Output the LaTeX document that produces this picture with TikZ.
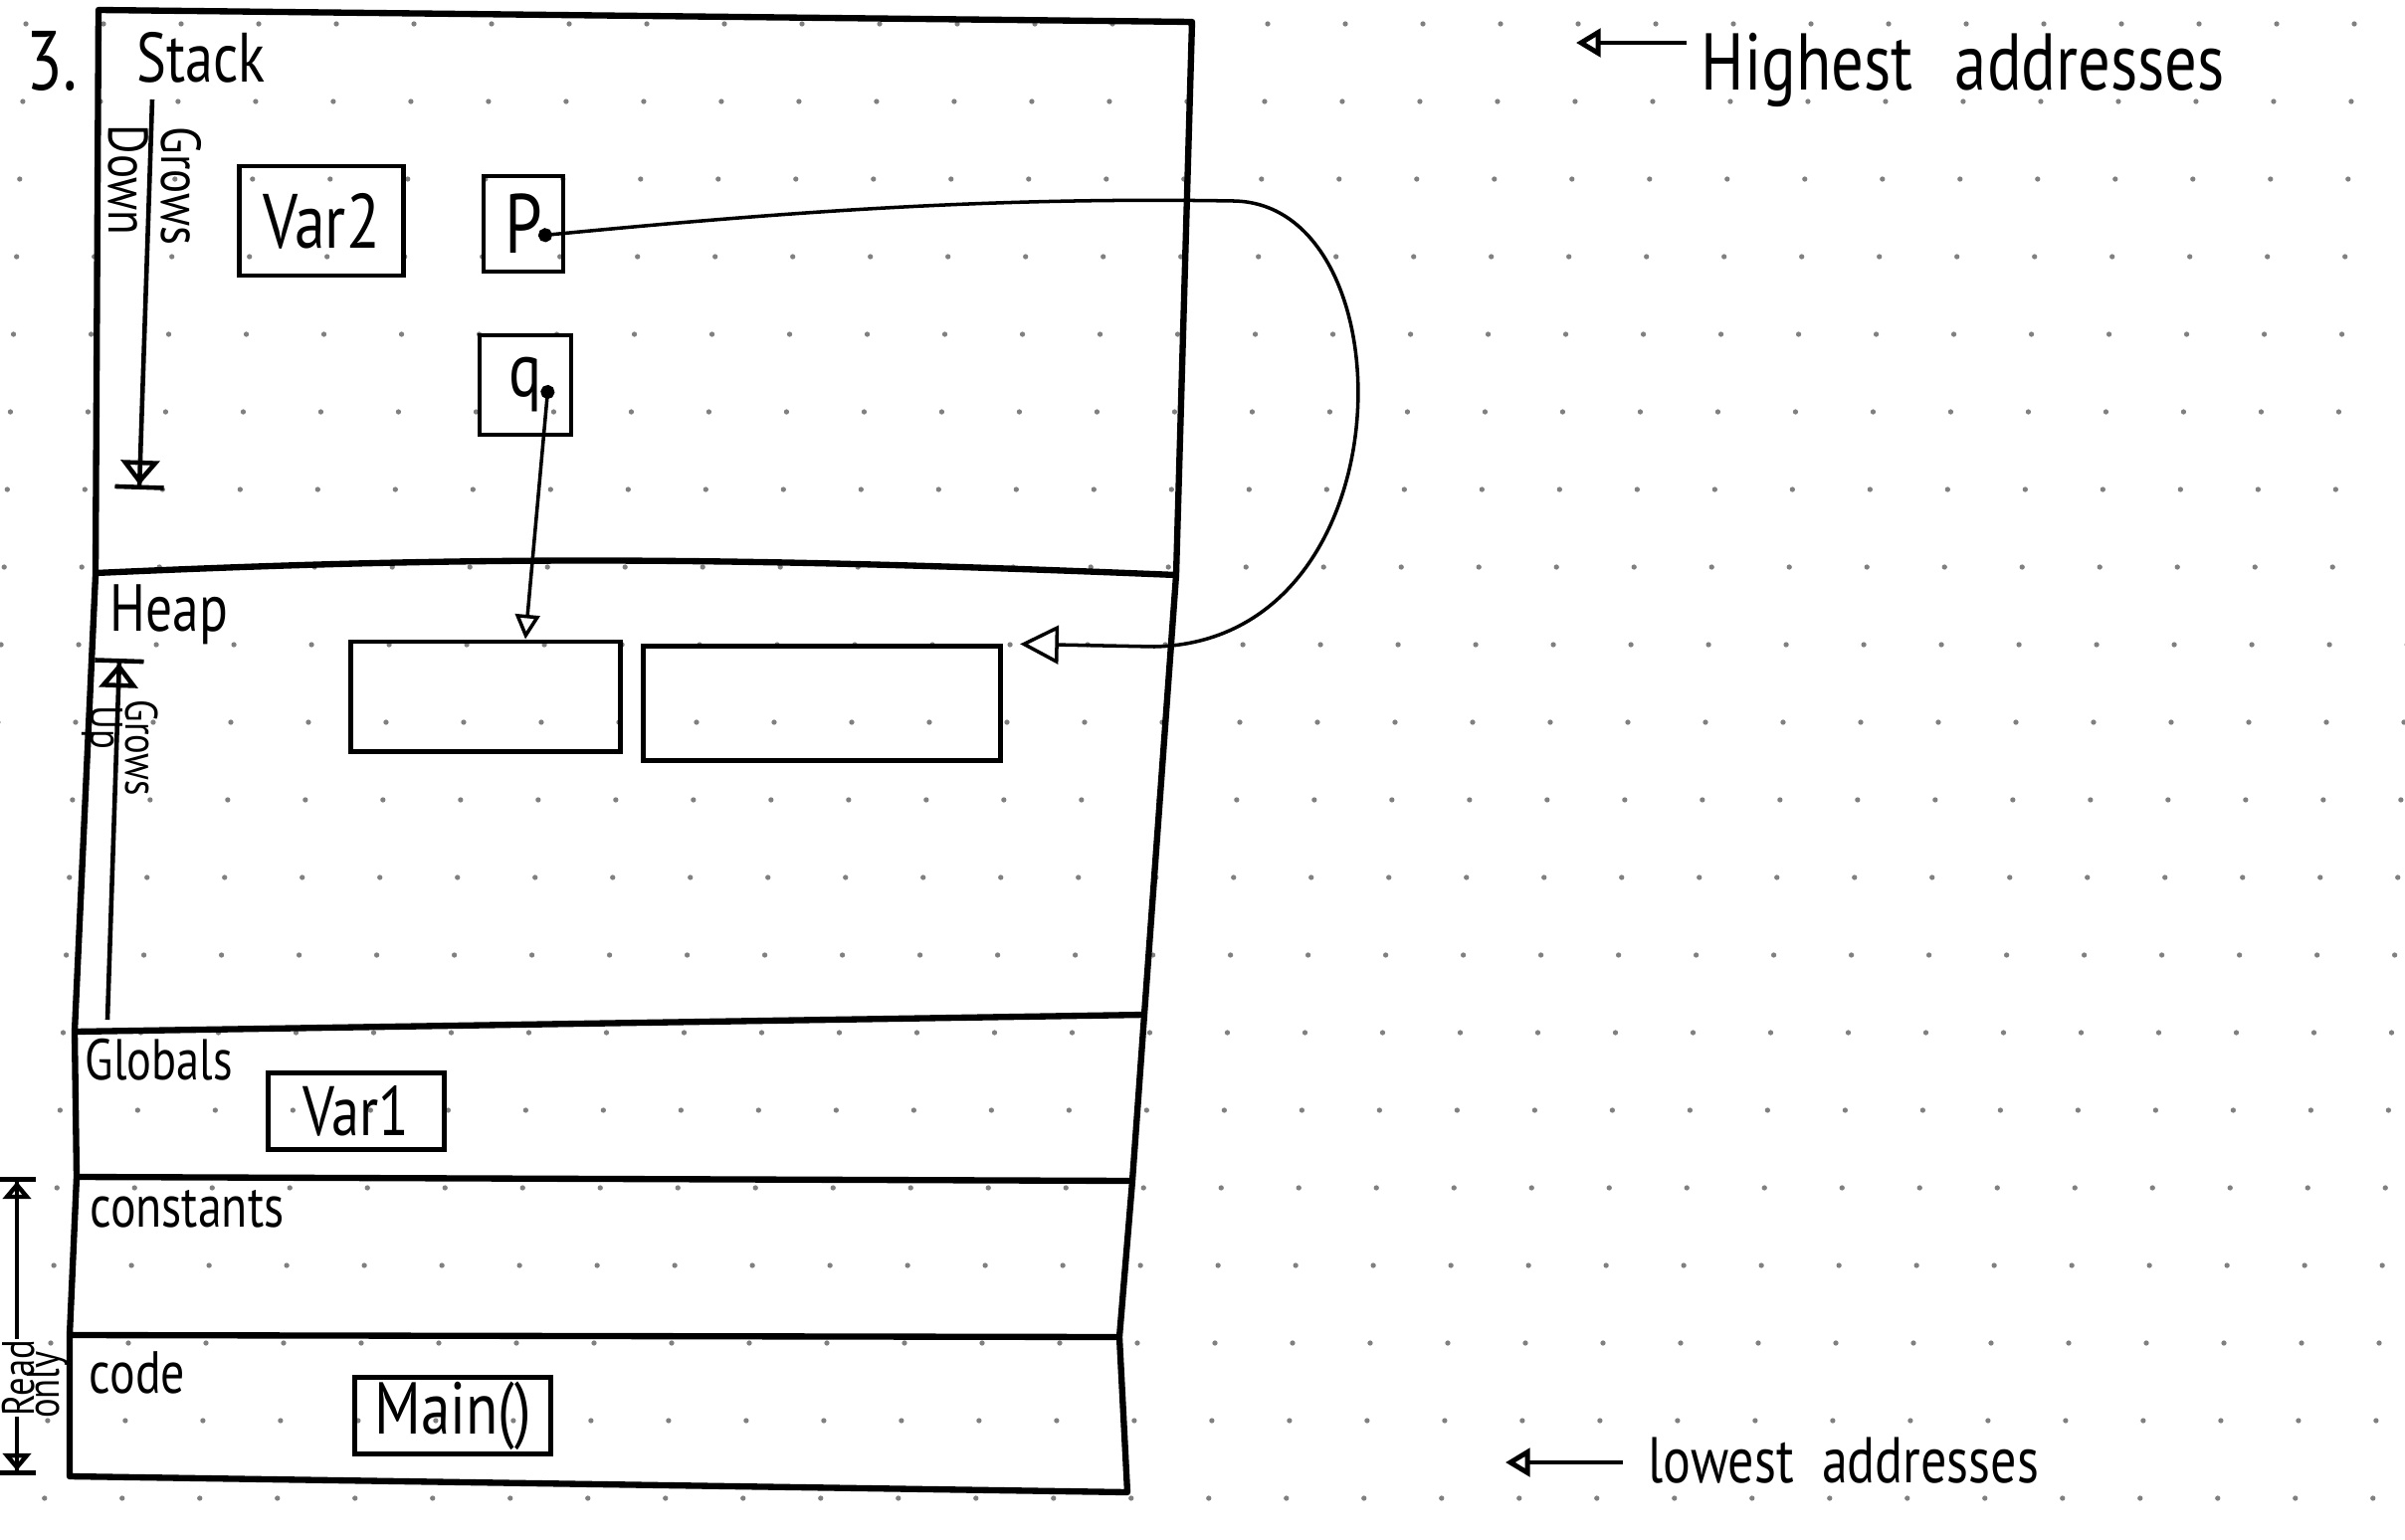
\documentclass[tikz,border=0pt]{standalone}
\usepackage{fontspec}
\newfontfamily\hand{PT Sans}[FakeStretch=0.8]
\definecolor{paperdot}{RGB}{128,128,128}
\usetikzlibrary{arrows.meta}

\begin{document}
\begin{tikzpicture}[x=0.01cm,y=-0.01cm,
  lbl/.style={font=\hand\fontsize{#1}{#1}\selectfont,inner sep=0pt},
  cell/.style={draw,line width=1.4pt,inner sep=0pt,font=\hand\fontsize{#1}{#1}\selectfont},
  memframe/.style={line width=1.8pt,line join=round},
  growarr/.style={line width=1.3pt,-{Triangle[open,length=7pt,width=11pt]Bar[width=14pt]}},
  roarr/.style={line width=1.3pt,-{Triangle[open,length=5pt,width=8pt]Bar[width=11pt]}},
  ptr/.style={line width=1pt,{Circle[length=4pt]}-{Triangle[open,length=#1,width=#1]}},
  addrarr/.style={line width=1.4pt,-{Triangle[open,length=7pt,width=8pt]}}
]
  \fill[white] (0,0) rectangle (2417,1548);
  \useasboundingbox (0,0) rectangle (2417,1548);
  % dotted paper
  \foreach \i in {0,...,31}{
    \foreach \j in {0,...,19}{
      \fill[paperdot] ({27+78*\i-0.04*(24+78*\j)},{24+78*\j}) circle (0.75pt);
    }
  }
  % memory layout
  \draw[memframe] (99,10) -- (1198,22) -- (1182,578) -- (1150,1020) -- (1138,1187)
    -- (1125,1344) -- (1133,1500) -- (70,1484) -- (70,1342) -- (77,1183)
    -- (75,1037) -- (96,578) -- cycle;
  \draw[memframe] (96,576) .. controls (450,560) and (700,558) .. (1182,578);
  \draw[memframe] (75,1037) -- (1150,1020);
  \draw[memframe] (77,1183) -- (1138,1187);
  \draw[memframe] (70,1342) -- (1125,1344);
  \node[lbl=24] (num) at (52,61) {3.};
  % Stack
  \node[lbl=20] (stack) at (202,58) {Stack};
  \node[lbl=16,rotate=-90] (sgrows) at (182,187) {Grows};
  \node[lbl=16,rotate=-90] (sdown) at (129,181) {Down};
  \coordinate (stop) at (153,100);
  \coordinate (sbot) at (140,492);
  \draw[growarr] (stop) -- (sbot);
  \node[cell=22,minimum width=1.65cm,minimum height=1.1cm] (var2) at (323,222) {Var2};
  \node[cell=24,minimum width=0.8cm,minimum height=0.96cm] (pbox) at (526,225) {P\hspace{8pt}};
  \node[cell=22,minimum width=0.92cm,minimum height=1cm] (qbox) at (528,387) {q\hspace{6pt}};
  \coordinate (pdot) at (541,237);
  \coordinate (qdot) at (551,387);
  % Heap
  \node[lbl=19] (heap) at (170,618) {Heap};
  \node[lbl=13,rotate=-90] (hgrows) at (143,752) {Grows};
  \node[lbl=13,rotate=-90] (hup) at (103,731) {Up};
  \coordinate (hbot) at (108,1025);
  \coordinate (htop) at (120,662);
  \draw[growarr] (hbot) -- (htop);
  \node[cell=10,minimum width=2.7cm,minimum height=1.1cm] (hb1) at (488,700) {};
  \node[cell=10,minimum width=3.58cm,minimum height=1.15cm] (hb2) at (826,707) {};
  \draw[ptr=7pt] (qdot) -- (qbox.center |- hb1.north);
  \draw[ptr=11pt,shorten >=5pt] (pdot) .. controls (800,212) and (1000,198) .. (1240,202)
    .. controls (1418,205) and (1418,645) .. (1160,650) -- (hb2.north east);
  % Globals, constants, code
  \node[lbl=16.5] (globals) at (160,1065) {Globals};
  \node[cell=20,minimum width=1.77cm,minimum height=0.77cm] (var1) at (358,1117) {Var1};
  \node[lbl=17] (consts) at (188,1215) {constants};
  \node[lbl=17] (code) at (138,1380) {code};
  \node[cell=21,minimum width=1.96cm,minimum height=0.77cm] (main) at (455,1423) {Main()};
  % read only
  \node[lbl=13,rotate=90] (rd) at (19,1385) {Read};
  \node[lbl=13,rotate=90] (only) at (48,1392) {only};
  \coordinate (rotop) at (17,1183);
  \coordinate (robot) at (17,1483);
  \draw[roarr] (rotop |- rd.east) -- (rotop);
  \draw[roarr] (robot |- rd.west) -- (robot);
  % addresses
  \node[lbl=23,anchor=base west] (hi) at (1709,90) {Highest\hspace{12pt}addresses};
  \coordinate (hitip) at (1584,43);
  \draw[addrarr,shorten <=4pt] (hi.west |- hitip) -- (hitip);
  \node[lbl=18.5,anchor=base west] (lo) at (1656,1490) {lowest\hspace{8pt}addresses};
  \coordinate (lotip) at (1513,1470);
  \draw[addrarr,shorten <=7pt] (lo.west |- lotip) -- (lotip);
\end{tikzpicture}
\end{document}
